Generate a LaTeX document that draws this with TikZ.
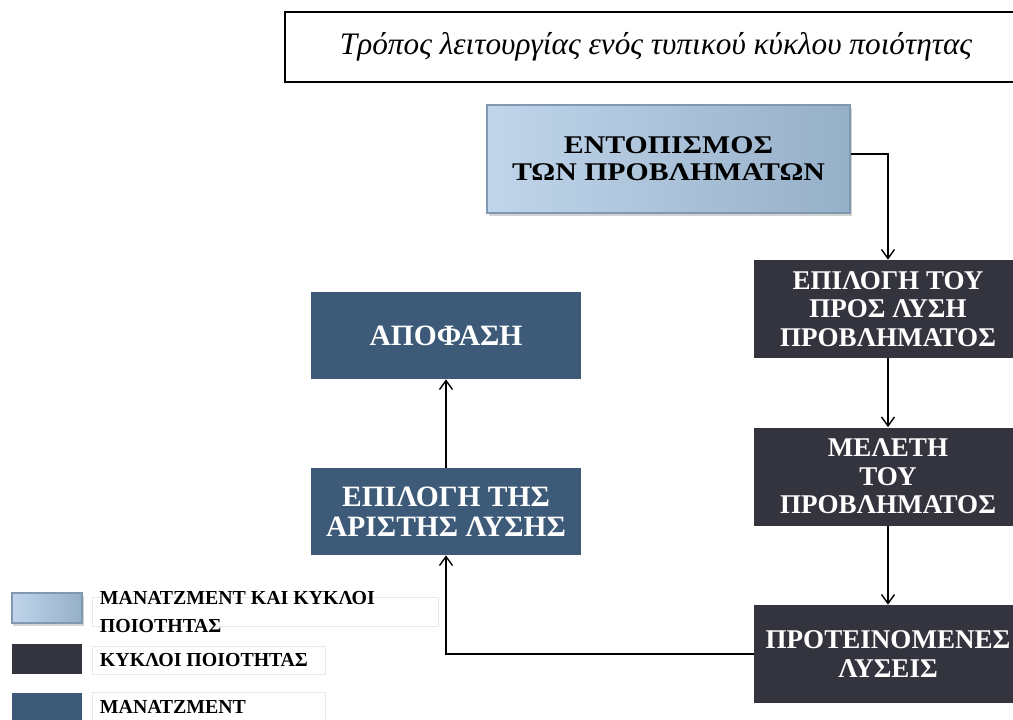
\documentclass[tikz,border=0pt]{standalone}
\usepackage{fontspec}
\setmainfont{Liberation Serif}
\newfontfamily\widefont[FakeStretch=1.17]{Liberation Serif}
\usetikzlibrary{shadows,arrows.meta}

\definecolor{qcdark}{RGB}{51,52,62}
\definecolor{mgmtblue}{RGB}{61,90,120}
\definecolor{bothleft}{RGB}{192,213,234}
\definecolor{bothright}{RGB}{150,176,201}
\definecolor{bothedge}{RGB}{128,152,177}
\definecolor{legedge}{RGB}{232,232,232}

\tikzset{
  qcbox/.style={fill=qcdark, text=white, minimum width=53.6mm, minimum height=19.6mm,
    align=center, inner sep=0pt, font=\bfseries\fontsize{15.4}{16.2}\selectfont},
  mgmtbox/.style={fill=mgmtblue, text=white, minimum width=54mm, minimum height=17.4mm,
    align=center, inner sep=0pt, font=\bfseries\fontsize{16.8}{17}\selectfont},
  bothbox/.style={left color=bothleft, right color=bothright, draw=bothedge, line width=0.6pt,
    drop shadow={opacity=0.35, shadow xshift=0.4mm, shadow yshift=-0.6mm},
    minimum width=72.6mm, minimum height=21.6mm, align=center, inner sep=0pt,
    font=\widefont\bfseries\fontsize{14.5}{15.5}\selectfont},
  titlebox/.style={draw, line width=1pt, minimum width=148.4mm, minimum height=14mm,
    inner sep=0pt, font=\itshape\fontsize{17.8}{20}\selectfont},
  flow/.style={-{Straight Barb[length=1.8mm,width=2.6mm]}, line width=0.8pt},
  swatch/.style={minimum width=14mm, minimum height=6mm, inner sep=0pt},
  legframe/.style={draw=legedge, line width=0.4pt, inner sep=0pt, minimum height=5.7mm},
  legtext/.style={anchor=west, align=left, inner sep=0pt,
    font=\bfseries\fontsize{11.3}{15.4}\selectfont}
}

\begin{document}
\begin{tikzpicture}[x=0.2mm, y=-0.2mm]
  \clip (0,0) rectangle (1013,719);
  \fill[white] (0,0) rectangle (1013,719);

  \node[titlebox] (title) at (656,47) {Τρόπος λειτουργίας ενός τυπικού κύκλου ποιότητας};

  \node[bothbox] (detect) at (668.5,159) {ΕΝΤΟΠΙΣΜΟΣ\\ΤΩΝ ΠΡΟΒΛΗΜΑΤΩΝ};
  \node[qcbox] (select) at (888,309) {ΕΠΙΛΟΓΗ ΤΟΥ\\ΠΡΟΣ ΛΥΣΗ\\ΠΡΟΒΛΗΜΑΤΟΣ};
  \node[qcbox] (study) at (888,476.5) {ΜΕΛΕΤΗ\\ΤΟΥ\\ΠΡΟΒΛΗΜΑΤΟΣ};
  \node[qcbox] (proposed) at (888,654) {ΠΡΟΤΕΙΝΟΜΕΝΕΣ\\ΛΥΣΕΙΣ};
  \node[mgmtbox] (best) at (446,511.5) {ΕΠΙΛΟΓΗ ΤΗΣ\\ΑΡΙΣΤΗΣ ΛΥΣΗΣ};
  \node[mgmtbox] (decision) at (446,335.5) {ΑΠΟΦΑΣΗ};

  \draw[flow] ([yshift=1mm]detect.east) -| (select.north);
  \draw[flow] (select) -- (study);
  \draw[flow] (study) -- (proposed);
  \draw[flow] (proposed.west) -| (best.south);
  \draw[flow] (best) -- (decision);

  \node[swatch, left color=bothleft, right color=bothright, draw=bothedge, line width=0.6pt,
    drop shadow={opacity=0.35, shadow xshift=0.3mm, shadow yshift=-0.5mm}] (keyboth) at (47,608) {};
  \node[swatch, fill=qcdark] (keyqc) at (47,658.5) {};
  \node[swatch, fill=mgmtblue] (keymgmt) at (47,708) {};

  \node[legframe, minimum width=69.2mm] (labboth) at (265,612) {};
  \node[legframe, minimum width=46.6mm] (labqc) at (208.5,660.5) {};
  \node[legframe, minimum width=46.6mm] (labmgmt) at (208.5,707) {};
  \node[legtext] at ([xshift=1.6mm]labboth.west) {ΜΑΝΑΤΖΜΕΝΤ ΚΑΙ ΚΥΚΛΟΙ\\ΠΟΙΟΤΗΤΑΣ};
  \node[legtext] at ([xshift=1.6mm]labqc.west) {ΚΥΚΛΟΙ ΠΟΙΟΤΗΤΑΣ};
  \node[legtext] at ([xshift=1.6mm]labmgmt.west) {ΜΑΝΑΤΖΜΕΝΤ};
\end{tikzpicture}
\end{document}
